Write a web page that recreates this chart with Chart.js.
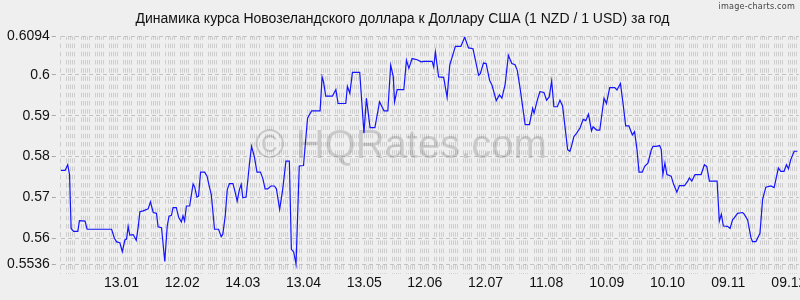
<!DOCTYPE html>
<html>
<head>
<meta charset="utf-8">
<script src="https://cdn.jsdelivr.net/npm/chart.js@4/dist/chart.umd.min.js"></script>
<style>
  html, body { margin: 0; padding: 0; background: #efefef; overflow: hidden; }
  #wrap { position: relative; width: 800px; height: 300px; }
  #brand { position: absolute; right: 5px; top: 1px; font: 9px "DejaVu Sans Condensed", "DejaVu Sans", sans-serif; color: #444; letter-spacing: 0.2px; }
</style>
</head>
<body>
<div id="wrap">
  <canvas id="rateChart" width="800" height="300"></canvas>
  <div id="brand">image-charts.com</div>
</div>
<script>
// ===================== NZD/USD за год =====================
var startDate = new Date(2024, 11, 14); // day 0 of the x axis

// day number (from startDate) and rate
var days = [
    0, 2.1, 3.4, 4.3, 5.1, 6.3, 8.4, 9.2, 12, 13, 25.1, 26.5, 27.6, 29.2, 30.4, 31.7, 32.5, 33.3, 34.1, 35.8,
    37.3, 38.3, 39.1, 40.7, 43.2, 44.3, 45.7, 47.3, 48.1, 49.8, 51.4, 52.6, 53.5, 54.7, 55.5, 57.1, 58.3, 59.6, 60.4, 61.2,
    62.1, 63.7, 65.4, 66.2, 67.3, 68.1, 69.1, 71.1, 72.3, 73.5, 74.4, 76, 78, 79.3, 80.1, 81.3, 82.3, 83.4, 85.1, 85.9,
    87.2, 88.3, 89.2, 90, 91.6, 92.5, 93.3, 94.3, 95.7, 97, 98.7, 99.9, 101, 102.3, 103.9, 105.6, 106.6, 108.2, 109.7, 111.3,
    113, 114, 115.1, 116.3, 117.9, 120, 122, 124, 128.2, 129.2, 129.9, 131, 134.3, 136, 137.1, 140.9, 141.7, 142.9, 144.2, 147.8,
    149.9, 151.1, 152.9, 155.3, 157.6, 159.8, 161.7, 163.1, 164.4, 165, 166.3, 169.6, 170.9, 172.1, 173.7, 176.2, 178.2, 179.5, 183.6, 184.4,
    185.2, 186.8, 189.3, 191, 192.3, 195.1, 197.8, 199.7, 201.6, 203.8, 206.6, 207.4, 209, 210.3, 212, 213.2, 215.3, 216.9, 218.1, 219.7,
    221.3, 223, 224.6, 225.7, 227.1, 229.6, 231.7, 233.3, 234, 235.6, 236.9, 238.9, 240.2, 241.5, 242.7, 243.8, 245.5, 246.8, 248.1, 249.3,
    250.6, 251.7, 252.5, 253.7, 255, 256.7, 258.3, 259.6, 260.9, 262.4, 263.2, 264.9, 266.5, 267.6, 268.6, 269.8, 271.4, 273.9, 275, 276.7,
    278, 279.3, 280.9, 282.6, 283.7, 284.9, 285.9, 287.5, 288.7, 290.3, 292, 292.8, 294.4, 296.1, 296.9, 297.7, 298.7, 299.7, 301.8, 303,
    304.6, 305.9, 308.4, 310, 310.8, 312, 313.6, 316.6, 318.2, 319.4, 320.7, 324.5, 325.6, 326.6, 327.6, 329.7, 330.9, 332.2, 333, 334.6,
    337.1, 337.9, 339.6, 341.2, 342, 343.7, 345.7, 347, 348.6, 351.1, 352.7, 354.8, 356, 357.6, 358.8, 359.8, 360.9, 362.6, 364.2
];
var rates = [
    0.5766, 0.5766, 0.5780, 0.5756, 0.5624, 0.5617, 0.5617, 0.5643, 0.5642, 0.5622, 0.5622, 0.5600, 0.5591, 0.5589, 0.5567, 0.5596, 0.5598, 0.5629, 0.5608, 0.5609,
    0.5595, 0.5629, 0.5665, 0.5667, 0.5672, 0.5689, 0.5663, 0.5661, 0.5628, 0.5626, 0.5543, 0.5629, 0.5654, 0.5656, 0.5675, 0.5675, 0.5651, 0.5640, 0.5655, 0.5642,
    0.5679, 0.5679, 0.5733, 0.5725, 0.5701, 0.5703, 0.5762, 0.5762, 0.5752, 0.5725, 0.5707, 0.5622, 0.5622, 0.5604, 0.5610, 0.5655, 0.5719, 0.5734, 0.5734, 0.5719,
    0.5691, 0.5719, 0.5732, 0.5699, 0.5701, 0.5744, 0.5784, 0.5825, 0.5800, 0.5762, 0.5762, 0.5746, 0.5721, 0.5721, 0.5728, 0.5728, 0.5721, 0.5671, 0.5719, 0.5789,
    0.5789, 0.5573, 0.5567, 0.5537, 0.5777, 0.5778, 0.5894, 0.5912, 0.5912, 0.5995, 0.5983, 0.5948, 0.5948, 0.5964, 0.5930, 0.5930, 0.5972, 0.5955, 0.6006, 0.6006,
    0.5857, 0.5943, 0.5871, 0.5871, 0.5934, 0.5912, 0.5912, 0.6024, 0.5995, 0.5934, 0.5964, 0.5964, 0.6036, 0.6016, 0.6040, 0.6037, 0.6032, 0.6033, 0.6033, 0.6019,
    0.6056, 0.5995, 0.5994, 0.5945, 0.6024, 0.6070, 0.6070, 0.6092, 0.6066, 0.6064, 0.5999, 0.6003, 0.6029, 0.6028, 0.5987, 0.5975, 0.5937, 0.5951, 0.5943, 0.5977,
    0.6048, 0.6028, 0.6025, 0.6011, 0.5967, 0.5878, 0.5878, 0.5918, 0.5906, 0.5938, 0.5959, 0.5957, 0.5938, 0.5946, 0.5985, 0.5922, 0.5922, 0.5938, 0.5924, 0.5873,
    0.5817, 0.5813, 0.5825, 0.5849, 0.5857, 0.5870, 0.5891, 0.5888, 0.5904, 0.5863, 0.5873, 0.5865, 0.5865, 0.5906, 0.5943, 0.5930, 0.5969, 0.5969, 0.5963, 0.5979,
    0.5930, 0.5875, 0.5875, 0.5853, 0.5861, 0.5817, 0.5762, 0.5762, 0.5776, 0.5784, 0.5817, 0.5825, 0.5825, 0.5827, 0.5817, 0.5756, 0.5784, 0.5756, 0.5752, 0.5732,
    0.5713, 0.5729, 0.5729, 0.5740, 0.5748, 0.5740, 0.5756, 0.5756, 0.5780, 0.5776, 0.5740, 0.5740, 0.5642, 0.5659, 0.5630, 0.5629, 0.5624, 0.5646, 0.5650, 0.5661,
    0.5663, 0.5659, 0.5645, 0.5602, 0.5592, 0.5592, 0.5612, 0.5695, 0.5725, 0.5728, 0.5724, 0.5772, 0.5764, 0.5764, 0.5780, 0.5770, 0.5792, 0.5813, 0.5813
];

// x tick labels (every 30 days)
var labelDays = [30, 60, 90, 120, 150, 180, 210, 240, 270, 300, 330, 360];
var labelTexts = ['13.01', '12.02', '14.03', '13.04', '13.05', '12.06', '12.07', '11.08', '10.09', '10.10', '09.11', '09.12'];

// y ticks: min, max and round values
var yTicks = [0.5536, 0.56, 0.57, 0.58, 0.59, 0.6, 0.6094];
var yMin = 0.5512;
var yMax = 0.6094;

var points = days.map(function (d, i) {
    return { x: d, y: rates[i] };
});

function isRateDay(day) {
    var dt = new Date(startDate.getTime());
    dt.setDate(dt.getDate() + day);
    var wd = dt.getDay();
    return wd !== 0 && wd !== 1;
}

// big grey watermark between grid and line
var watermark = {
    id: 'watermark',
    beforeDatasetsDraw: function (chart) {
        var ctx = chart.ctx;
        ctx.save();
        ctx.font = '40px "Liberation Sans", Arial, sans-serif';
        ctx.fillStyle = 'rgba(90, 90, 90, 0.25)';
        ctx.textAlign = 'center';
        ctx.textBaseline = 'middle';
        ctx.fillText('\u00A9 HQRates.com', chart.width / 2 + 1, 147);
        ctx.restore();
    }
};

Chart.defaults.font.family = '"Liberation Sans", Arial, sans-serif';
Chart.defaults.font.size = 14;
Chart.defaults.color = '#111';

new Chart(document.getElementById('rateChart'), {
    type: 'line',
    data: {
        datasets: [{
            label: 'NZD/USD',
            data: points,
            borderColor: 'rgb(20, 20, 255)',
            borderWidth: 1.2,
            pointRadius: 0,
            tension: 0,
            fill: false
        }]
    },
    options: {
        responsive: false,
        animation: false,
        layout: { padding: { left: 5, right: 0, top: 0, bottom: 7 } },
        plugins: {
            legend: { display: false },
            tooltip: { enabled: false },
            title: {
                display: true,
                text: 'Динамика курса Новозеландского доллара к Доллару США (1 NZD / 1 USD) за год',
                color: '#111',
                font: { size: 14, weight: 'normal' },
                padding: { top: 11, bottom: 8.7 }
            }
        },
        scales: {
            x: {
                type: 'linear',
                min: 0,
                max: 365,
                // dash of the grid lines lives under border in v4
                border: { display: false, dash: [4.5, 3.7], dashOffset: 1.1 },
                grid: {
                    color: function (c) {
                        return c.tick && isRateDay(c.tick.value) ? '#cdcdcd' : 'rgba(0,0,0,0)';
                    },
                    lineWidth: 1,
                    drawTicks: false
                },
                ticks: {
                    stepSize: 1,
                    autoSkip: false,
                    maxRotation: 0,
                    minRotation: 0,
                    padding: 1,
                    color: '#111',
                    callback: function (value) {
                        var k = labelDays.indexOf(value);
                        return k >= 0 ? labelTexts[k] : '';
                    }
                }
            },
            y: {
                min: yMin,
                max: yMax,
                border: { display: false, dash: [4, 3] },
                afterBuildTicks: function (scale) {
                    scale.ticks = yTicks.map(function (v) { return { value: v }; });
                },
                grid: {
                    color: '#c2c2c2',
                    tickLength: 9,
                    tickColor: '#a8a8a8',
                    tickBorderDash: [4, 20]
                },
                ticks: {
                    padding: 2,
                    color: '#111',
                    callback: function (value) {
                        return String(value);
                    }
                }
            }
        }
    },
    plugins: [watermark]
});
</script>
</body>
</html>
